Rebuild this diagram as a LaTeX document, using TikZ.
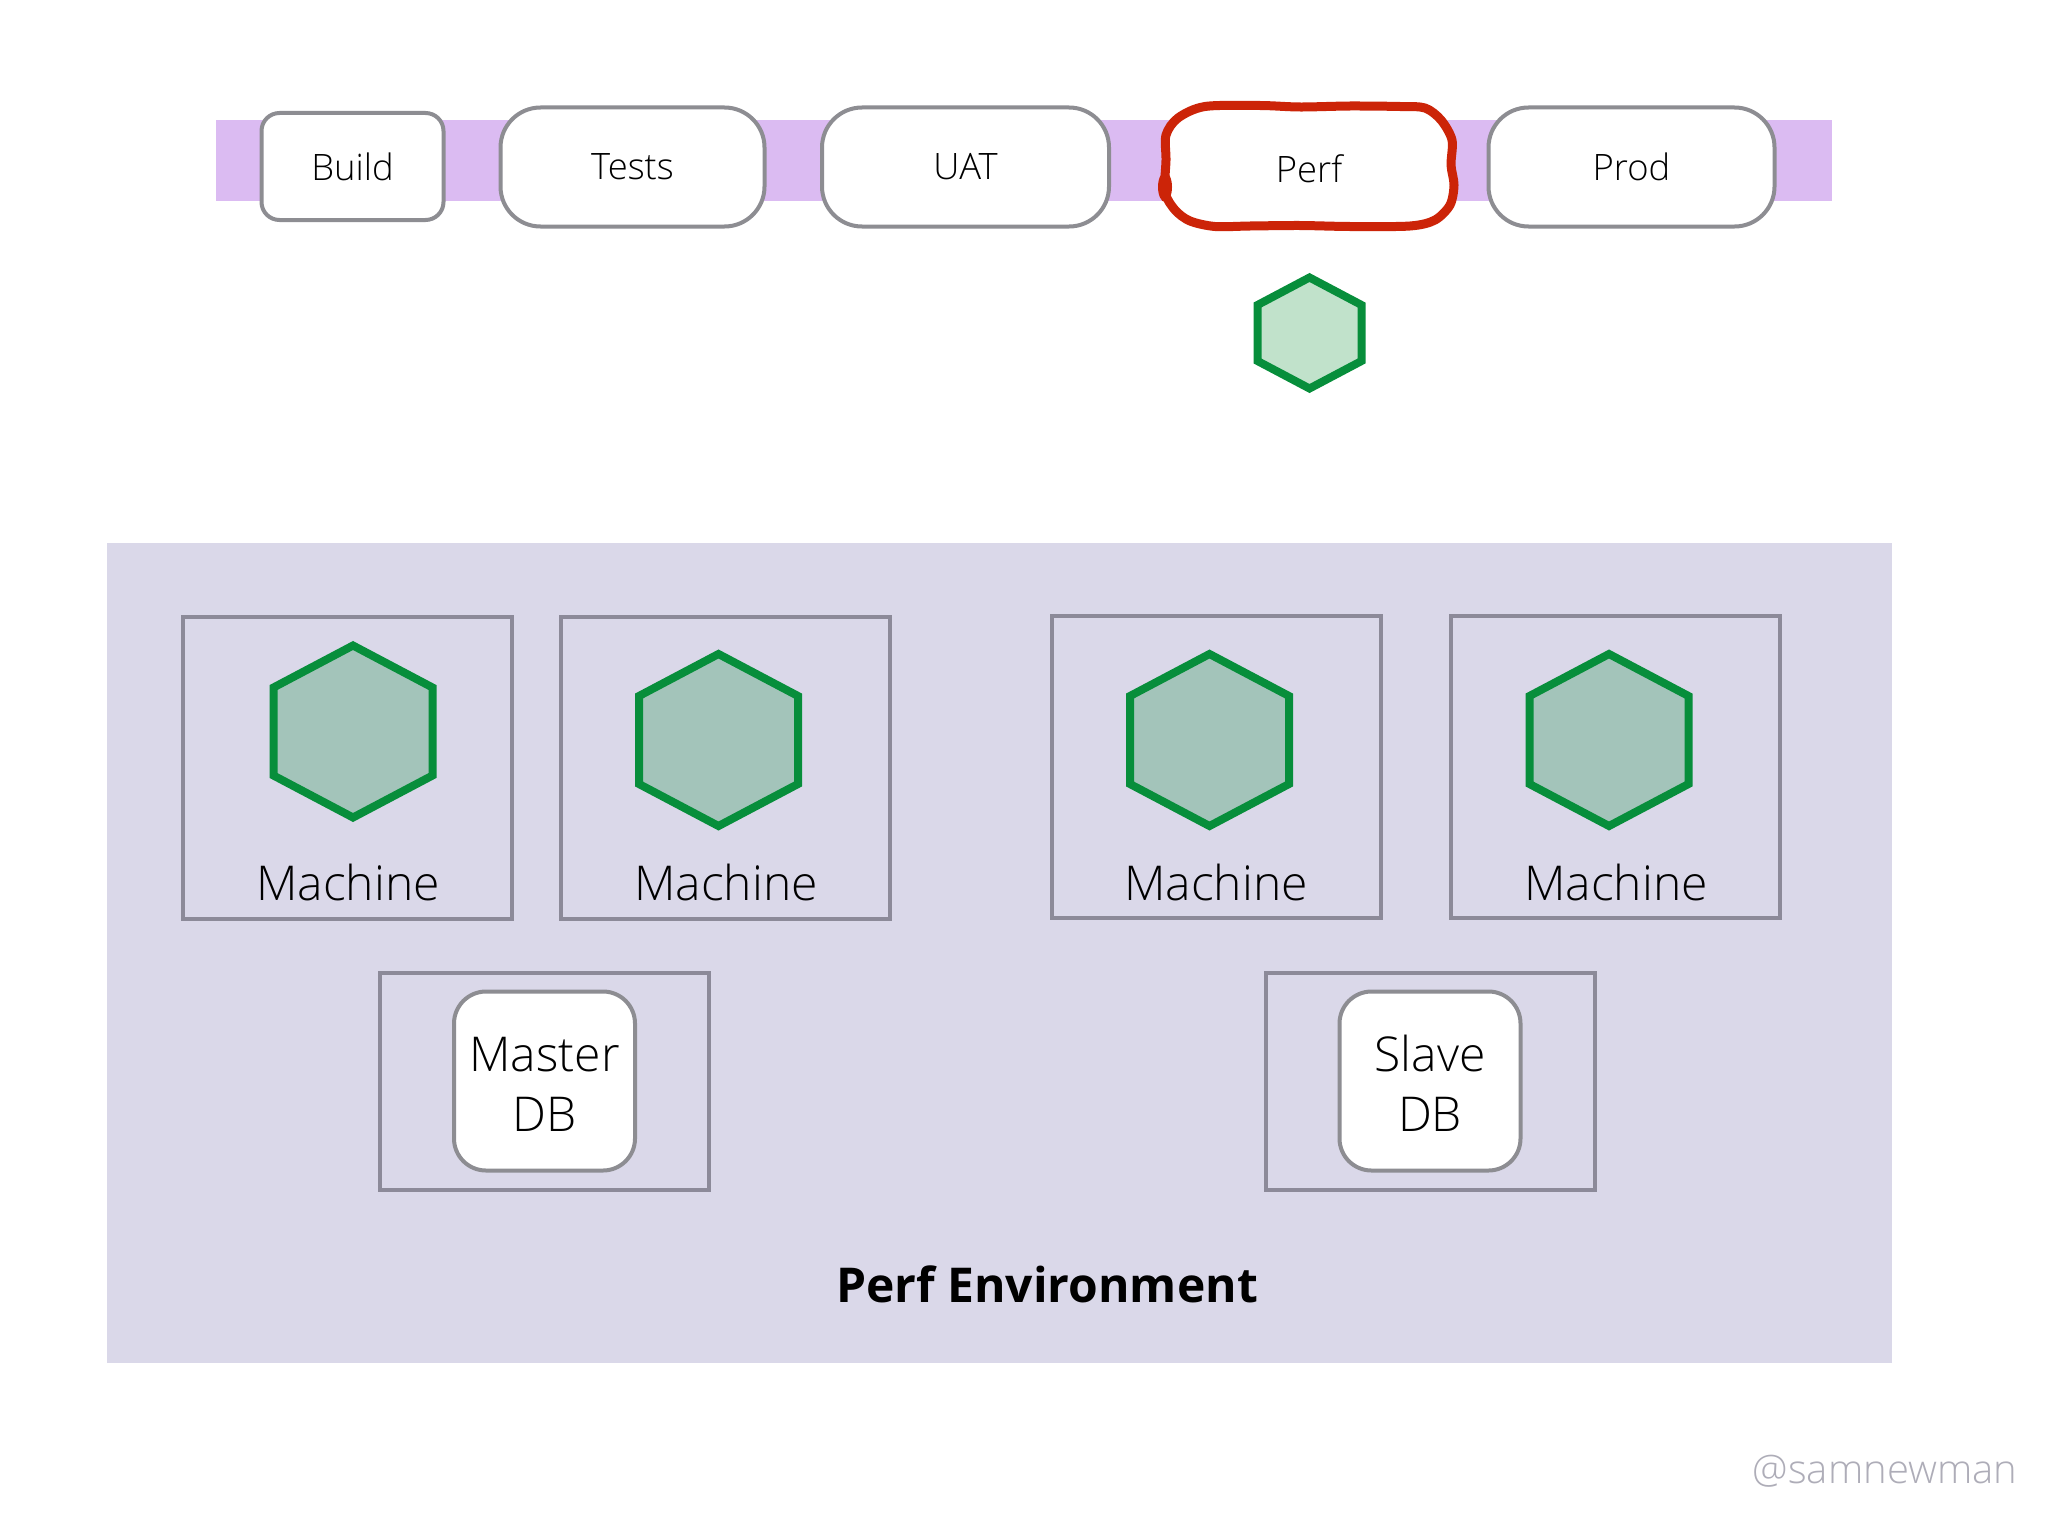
\documentclass[tikz,border=0pt]{standalone}
\usepackage{fontspec}
\setmainfont{Open Sans Light}[BoldFont={Open Sans Bold}]
\usetikzlibrary{calc}
\definecolor{bandc}{HTML}{DBBBF2}
\definecolor{panelc}{HTML}{DAD8E9}
\definecolor{edgec}{HTML}{8C8A99}
\definecolor{stagec}{HTML}{8D8D92}
\definecolor{greenc}{HTML}{078E3B}
\definecolor{hexlight}{HTML}{C1E2CB}
\definecolor{hexdark}{HTML}{A3C4BA}
\definecolor{redc}{HTML}{CC2408}
\newcommand{\hexat}[7]{% name, cx, cy, half width, half height, side half height, fill
  \coordinate (#1) at (#2,#3);
  \draw[hexline,fill=#7] ($(#1)+(0,-#5)$) -- ($(#1)+(#4,-#6)$) -- ($(#1)+(#4,#6)$) -- ($(#1)+(0,#5)$) -- ($(#1)+(-#4,#6)$) -- ($(#1)+(-#4,-#6)$) -- cycle;}
\tikzset{
  x=0.5pt,y=-0.5pt,
  stage/.style={draw=stagec,line width=2pt,fill=white,font=\fontsize{18.2}{24}\selectfont,inner sep=0pt,text=black},
  mbox/.style={draw=edgec,line width=2pt,inner sep=0pt},
  mlabel/.style={font=\fontsize{24}{30}\selectfont,text=black,inner sep=0pt},
  hexline/.style={draw=greenc,line width=4pt,line join=miter},
  dbnode/.style={draw=stagec,line width=2pt,fill=white,rounded corners=16pt,minimum width=90.5pt,minimum height=89.5pt,align=center,inner sep=0pt,font=\fontsize{24}{30}\selectfont},
}
\begin{document}
\begin{tikzpicture}
\useasboundingbox (0,0) rectangle (2048,1536);
\fill[white] (0,0) rectangle (2048,1536);
\node[fill=bandc,minimum width=808pt,minimum height=40.5pt,inner sep=0pt] (band) at (1024,160.5) {};
\node[stage,rounded corners=9pt,minimum width=91pt,minimum height=53.5pt] (build) at (352.5,166.5) {Build};
\node[stage,rounded corners=20pt,minimum width=132pt,minimum height=59.5pt] (tests) at (632.5,167) {Tests};
\node[stage,rounded corners=20pt,minimum width=143.5pt,minimum height=59.5pt] (uat) at (965.5,167) {UAT};
\node[stage,draw=none,rounded corners=20pt,minimum width=143pt,minimum height=59.5pt] (perf) at (1309,168.5) {Perf};
\node[stage,rounded corners=20pt,minimum width=143pt,minimum height=59.5pt] (prod) at (1631.5,167) {Prod};
\draw[redc,line width=4.5pt,line join=round] plot[smooth cycle,tension=0.5] coordinates {(1205,106.5) (1260,105.5) (1300,107) (1350,106) (1400,106.5) (1425,108) (1441,120) (1452,140) (1451,165) (1454,185) (1450,205) (1435,220) (1410,226) (1350,226.5) (1300,225.5) (1250,226) (1215,226.5) (1190,221) (1175,210) (1165,192) (1166,160) (1166,135) (1178,118)};
\fill[redc] (1165,187) ellipse (7 and 15);
\hexat{hsmall}{1309.5}{333}{52}{55.5}{28}{hexlight}
\node[fill=panelc,minimum width=892.5pt,minimum height=410pt,inner sep=0pt] (panel) at (999.5,953) {};
\node[mbox,minimum width=164.5pt,minimum height=151pt] (m1) at (347.5,768) {};
\node[mbox,minimum width=164.5pt,minimum height=151pt] (m2) at (725,768) {};
\node[mbox,minimum width=164.5pt,minimum height=151pt] (m3) at (1216,767) {};
\node[mbox,minimum width=164.5pt,minimum height=151pt] (m4) at (1615.5,767) {};
\hexat{h1}{353}{731.5}{79.5}{86}{44}{hexdark}
\hexat{h2}{718.5}{740}{79.5}{86}{44}{hexdark}
\hexat{h3}{1209.5}{740}{79.5}{86}{44}{hexdark}
\hexat{h4}{1609}{740}{79.5}{86}{44}{hexdark}
\node[mlabel] (l1) at (348,882) {Machine};
\node[mlabel] (l2) at (726,882) {Machine};
\node[mlabel] (l3) at (1216,882) {Machine};
\node[mlabel] (l4) at (1616,882) {Machine};
\node[mbox,minimum width=164.5pt,minimum height=108.5pt] (d1) at (544.5,1081.5) {};
\node[mbox,minimum width=164.5pt,minimum height=108.5pt] (d2) at (1430,1081.5) {};
\node[dbnode] (master) at (544.5,1081) {\rule{0pt}{20pt}Master\\DB};
\node[dbnode] (slave) at (1430,1081) {\rule{0pt}{20pt}Slave\\DB};
\node[font=\fontsize{24}{30}\selectfont\bfseries,text=black,inner sep=0pt] (title) at (1047,1284) {Perf Environment};
\node[font=\fontsize{20}{24}\selectfont,text=edgec!70,inner sep=0pt] (credit) at (1885,1471) {@samnewman};
\end{tikzpicture}
\end{document}
